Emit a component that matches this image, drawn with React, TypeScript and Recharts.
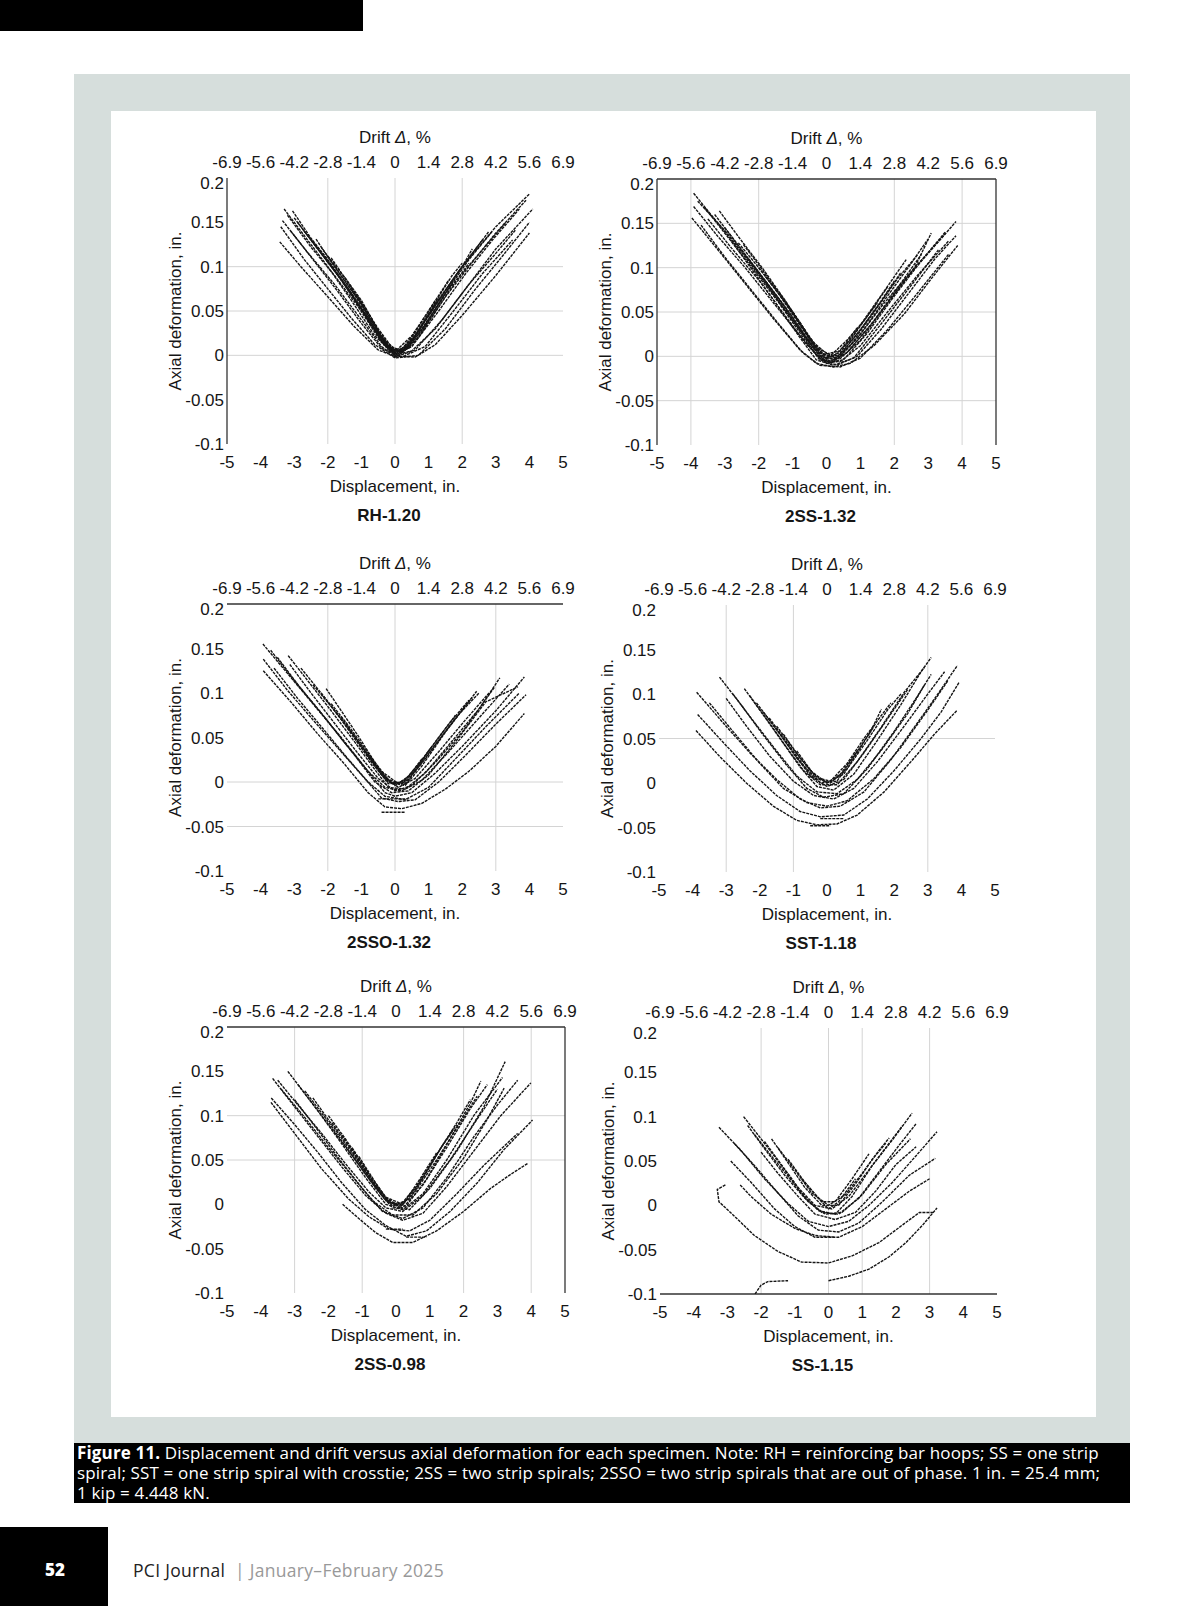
import React from "react";
import { LineChart, Line, XAxis, YAxis, ReferenceLine } from "recharts";

type Pt = [number, number];

// shared axis ticks
const dispTicks = [-5, -4, -3, -2, -1, 0, 1, 2, 3, 4, 5];
const driftLabels = ["-6.9", "-5.6", "-4.2", "-2.8", "-1.4", "0", "1.4", "2.8", "4.2", "5.6", "6.9"];
const axialTicks = [-0.1, -0.05, 0, 0.05, 0.1, 0.15, 0.2];

// loops: [displacement in., axial deformation in.]
const rh120: Pt[][] = [
  [[-3.43, 0.128], [-2.8, 0.1], [-2.0, 0.066], [-1.2, 0.032], [-0.5, 0.006], [0, -0.001], [0.6, -0.002], [1.2, 0.012], [2.0, 0.045], [3.0, 0.09], [4.0, 0.138]],
  [[-3.3, 0.165], [-2.6, 0.13], [-2.0, 0.1], [-1.3, 0.062], [-0.6, 0.022], [0, 0.0], [0.5, 0.005], [1.2, 0.03], [2.0, 0.07], [3.0, 0.12], [4.1, 0.165]],
  [[-3.05, 0.163], [-2.5, 0.132], [-2.0, 0.108], [-1.3, 0.07], [-0.6, 0.028], [0, 0.002], [0.4, 0.008], [1.0, 0.04], [2.0, 0.1], [3.0, 0.145], [4.0, 0.182]],
  [[-3.35, 0.152], [-2.6, 0.116], [-1.8, 0.08], [-1.0, 0.04], [-0.4, 0.01], [0, -0.002], [0.6, 0.006], [1.4, 0.04], [2.2, 0.08], [3.0, 0.115], [3.6, 0.142]],
  [[-2.9, 0.15], [-2.3, 0.12], [-1.6, 0.085], [-0.9, 0.045], [-0.3, 0.01], [0.2, 0.004], [0.8, 0.03], [1.6, 0.075], [2.4, 0.11], [3.3, 0.15]],
  [[-2.7, 0.14], [-2.1, 0.112], [-1.4, 0.075], [-0.7, 0.035], [-0.2, 0.006], [0.3, 0.006], [1.0, 0.045], [1.8, 0.09], [2.8, 0.14]],
  [[-2.35, 0.131], [-1.8, 0.1], [-1.2, 0.068], [-0.6, 0.03], [-0.1, 0.004], [0.4, 0.01], [1.1, 0.05], [1.9, 0.095], [2.6, 0.13]],
  [[-2.2, 0.122], [-1.6, 0.09], [-1.0, 0.058], [-0.5, 0.025], [0, 0.002], [0.5, 0.015], [1.2, 0.058], [2.0, 0.1], [2.3, 0.12]],
  [[-1.9, 0.11], [-1.4, 0.082], [-0.9, 0.052], [-0.4, 0.02], [0.1, 0.004], [0.6, 0.022], [1.2, 0.06], [1.7, 0.09], [2.0, 0.104]],
  [[-1.5, 0.088], [-1.0, 0.06], [-0.5, 0.03], [0, 0.004], [0.5, 0.022], [1.0, 0.05], [1.6, 0.085]],
  [[-1.1, 0.065], [-0.6, 0.035], [-0.2, 0.01], [0.2, 0.006], [0.7, 0.032], [1.2, 0.062]],
  [[-0.7, 0.04], [-0.3, 0.014], [0, 0.0], [0.4, 0.014], [0.8, 0.038]],
  [[-3.2, 0.158], [-2.5, 0.122], [-1.8, 0.09], [-1.1, 0.055], [-0.5, 0.02], [0, 0.0], [0.5, 0.01], [1.3, 0.05], [2.1, 0.092], [2.9, 0.13], [3.7, 0.165]],
  [[-3.0, 0.155], [-2.4, 0.125], [-1.7, 0.09], [-1.0, 0.052], [-0.4, 0.016], [0.1, 0.0], [0.7, 0.02], [1.5, 0.066], [2.3, 0.105], [3.0, 0.138], [3.9, 0.175]],
  [[-3.4, 0.145], [-2.7, 0.108], [-2.0, 0.075], [-1.3, 0.042], [-0.6, 0.012], [0, -0.003], [0.7, 0.0], [1.5, 0.03], [2.4, 0.075], [3.2, 0.112], [4.0, 0.15]],
  [[-2.5, 0.13], [-2.0, 0.106], [-1.4, 0.076], [-0.8, 0.042], [-0.3, 0.012], [0.2, 0.002], [0.8, 0.028], [1.5, 0.07], [2.2, 0.108], [2.9, 0.14]],
  [[-2.0, 0.112], [-1.5, 0.088], [-1.0, 0.062], [-0.5, 0.028], [0, 0.003], [0.5, 0.01], [1.0, 0.038], [1.6, 0.072], [2.2, 0.104]],
  [[-1.3, 0.076], [-0.9, 0.054], [-0.5, 0.028], [-0.1, 0.004], [0.3, 0.006], [0.8, 0.034], [1.3, 0.064]],
  [[-3.1, 0.14], [-2.4, 0.106], [-1.7, 0.072], [-1.0, 0.036], [-0.4, 0.008], [0.2, -0.002], [0.9, 0.01], [1.7, 0.048], [2.6, 0.092], [3.5, 0.13]],
];

const ss2_132: Pt[][] = [
  [[-3.92, 0.184], [-3.2, 0.15], [-2.4, 0.112], [-1.6, 0.072], [-0.8, 0.03], [-0.3, 0.002], [0.1, -0.008], [0.6, 0.004], [1.4, 0.04], [2.4, 0.09], [3.2, 0.125], [3.82, 0.152]],
  [[-3.92, 0.169], [-3.2, 0.135], [-2.4, 0.1], [-1.6, 0.062], [-0.8, 0.024], [-0.2, -0.002], [0.3, -0.01], [0.9, 0.0], [1.6, 0.03], [2.5, 0.075], [3.2, 0.11], [3.82, 0.136]],
  [[-3.97, 0.156], [-3.2, 0.12], [-2.4, 0.082], [-1.6, 0.044], [-0.8, 0.008], [-0.3, -0.008], [0.2, -0.012], [0.7, -0.008], [1.4, 0.012], [2.3, 0.048], [3.1, 0.088], [3.87, 0.125]],
  [[-3.6, 0.168], [-2.9, 0.134], [-2.2, 0.1], [-1.4, 0.06], [-0.7, 0.022], [-0.2, -0.004], [0.3, -0.006], [1.0, 0.018], [1.8, 0.06], [2.6, 0.1], [3.09, 0.139]],
  [[-3.16, 0.164], [-2.6, 0.135], [-1.9, 0.1], [-1.2, 0.062], [-0.6, 0.026], [-0.1, -0.004], [0.4, 0.0], [1.0, 0.025], [1.8, 0.068], [2.5, 0.105], [2.99, 0.132]],
  [[-3.0, 0.145], [-2.4, 0.115], [-1.7, 0.08], [-1.0, 0.044], [-0.4, 0.01], [0.1, -0.006], [0.6, 0.004], [1.3, 0.035], [2.0, 0.072], [2.8, 0.115]],
  [[-2.45, 0.126], [-1.9, 0.098], [-1.3, 0.066], [-0.7, 0.032], [-0.2, 0.004], [0.3, -0.002], [0.9, 0.03], [1.6, 0.068], [2.35, 0.109]],
  [[-2.3, 0.11], [-1.8, 0.085], [-1.2, 0.055], [-0.6, 0.022], [-0.1, -0.002], [0.4, 0.002], [1.0, 0.03], [1.7, 0.066], [2.2, 0.095]],
  [[-1.8, 0.09], [-1.3, 0.065], [-0.8, 0.038], [-0.3, 0.01], [0.2, 0.0], [0.7, 0.018], [1.2, 0.045], [1.8, 0.078]],
  [[-1.4, 0.072], [-0.9, 0.045], [-0.4, 0.016], [0.1, 0.0], [0.6, 0.018], [1.1, 0.04], [1.5, 0.06]],
  [[-1.0, 0.05], [-0.5, 0.022], [-0.1, 0.002], [0.4, 0.006], [0.9, 0.032]],
  [[-2.8, 0.13], [-2.2, 0.098], [-1.5, 0.06], [-0.8, 0.022], [-0.3, -0.004], [0.2, -0.01], [0.8, -0.002], [1.6, 0.036], [2.5, 0.08], [3.3, 0.12]],
  [[-3.8, 0.175], [-3.0, 0.142], [-2.2, 0.104], [-1.4, 0.064], [-0.7, 0.026], [-0.2, 0.0], [0.3, -0.004], [0.9, 0.02], [1.7, 0.06], [2.6, 0.1], [3.5, 0.138]],
  [[-3.5, 0.155], [-2.8, 0.122], [-2.0, 0.086], [-1.3, 0.05], [-0.6, 0.014], [-0.1, -0.006], [0.4, -0.006], [1.0, 0.012], [1.8, 0.05], [2.7, 0.092], [3.6, 0.13]],
  [[-2.6, 0.128], [-2.0, 0.1], [-1.4, 0.07], [-0.8, 0.036], [-0.3, 0.008], [0.2, -0.004], [0.7, 0.012], [1.4, 0.05], [2.1, 0.088], [2.7, 0.115]],
  [[-2.0, 0.1], [-1.5, 0.076], [-1.0, 0.05], [-0.5, 0.02], [0, -0.002], [0.5, 0.006], [1.0, 0.03], [1.6, 0.062], [2.0, 0.085]],
  [[-3.3, 0.16], [-2.7, 0.13], [-2.0, 0.094], [-1.3, 0.056], [-0.6, 0.02], [0, -0.008], [0.5, -0.004], [1.2, 0.026], [2.0, 0.068], [2.8, 0.108], [3.5, 0.14]],
  [[-3.7, 0.148], [-3.0, 0.112], [-2.2, 0.074], [-1.4, 0.036], [-0.7, 0.004], [-0.2, -0.01], [0.4, -0.012], [1.0, -0.002], [1.8, 0.03], [2.7, 0.072], [3.6, 0.115]],
];

const sso2_132: Pt[][] = [
  [[-3.93, 0.155], [-3.2, 0.122], [-2.4, 0.086], [-1.6, 0.05], [-0.8, 0.012], [-0.3, -0.012], [0, -0.016], [0.5, -0.012], [1.2, 0.01], [2.0, 0.04], [3.0, 0.08], [3.85, 0.118]],
  [[-3.92, 0.138], [-3.2, 0.103], [-2.4, 0.068], [-1.6, 0.034], [-0.9, 0.004], [-0.4, -0.018], [0.1, -0.022], [0.6, -0.02], [1.3, 0.0], [2.1, 0.03], [3.0, 0.065], [3.9, 0.098]],
  [[-3.92, 0.125], [-3.1, 0.09], [-2.3, 0.054], [-1.5, 0.02], [-0.8, -0.012], [-0.3, -0.028], [0.2, -0.03], [0.8, -0.024], [1.5, -0.008], [2.2, 0.012], [3.0, 0.04], [3.85, 0.077]],
  [[-3.18, 0.142], [-2.6, 0.114], [-1.9, 0.08], [-1.2, 0.045], [-0.6, 0.014], [-0.2, -0.006], [0.3, -0.008], [0.9, 0.01], [1.7, 0.046], [2.5, 0.082], [3.12, 0.117]],
  [[-3.13, 0.132], [-2.5, 0.1], [-1.8, 0.066], [-1.1, 0.032], [-0.5, 0.004], [0, -0.01], [0.5, -0.004], [1.2, 0.022], [2.0, 0.056], [2.97, 0.107]],
  [[-2.44, 0.109], [-1.9, 0.085], [-1.3, 0.056], [-0.7, 0.026], [-0.2, 0.0], [0.3, -0.004], [0.8, 0.018], [1.5, 0.056], [2.43, 0.102]],
  [[-2.05, 0.105], [-1.6, 0.08], [-1.1, 0.052], [-0.6, 0.022], [-0.1, -0.002], [0.4, 0.002], [1.0, 0.035], [1.6, 0.065], [2.2, 0.092]],
  [[-1.6, 0.073], [-1.1, 0.046], [-0.6, 0.018], [-0.2, -0.002], [0.3, 0.0], [0.8, 0.024], [1.3, 0.05], [1.8, 0.075]],
  [[-3.5, 0.14], [-2.8, 0.105], [-2.0, 0.068], [-1.2, 0.03], [-0.6, 0.0], [-0.1, -0.012], [0.4, -0.01], [1.0, 0.008], [1.8, 0.045], [2.7, 0.09], [3.66, 0.107]],
  [[-1.2, 0.05], [-0.7, 0.025], [-0.3, 0.004], [0.2, -0.002], [0.7, 0.02], [1.1, 0.04]],
  [[-0.8, 0.03], [-0.4, 0.01], [0, -0.004], [0.4, 0.006], [0.8, 0.026]],
  [[-0.5, -0.019], [0.4, -0.019]],
  [[-0.4, -0.034], [0.3, -0.034]],
  [[-3.7, 0.148], [-3.0, 0.114], [-2.2, 0.078], [-1.5, 0.044], [-0.8, 0.012], [-0.3, -0.006], [0.2, -0.01], [0.8, 0.002], [1.6, 0.034], [2.5, 0.072], [3.4, 0.11]],
  [[-2.8, 0.128], [-2.2, 0.1], [-1.6, 0.07], [-1.0, 0.038], [-0.4, 0.008], [0.1, -0.006], [0.6, 0.004], [1.3, 0.034], [2.1, 0.07], [2.8, 0.1]],
  [[-2.2, 0.1], [-1.7, 0.076], [-1.2, 0.05], [-0.7, 0.022], [-0.2, 0.0], [0.3, -0.002], [0.9, 0.026], [1.6, 0.062], [2.3, 0.095]],
  [[-3.6, 0.128], [-2.9, 0.094], [-2.1, 0.058], [-1.4, 0.026], [-0.8, 0.0], [-0.3, -0.016], [0.3, -0.02], [1.0, -0.006], [1.8, 0.026], [2.7, 0.062], [3.7, 0.1]],
  [[-1.9, 0.088], [-1.4, 0.064], [-0.9, 0.038], [-0.4, 0.012], [0.1, -0.002], [0.6, 0.012], [1.2, 0.042], [1.9, 0.076], [2.5, 0.1]],
];

const sst118: Pt[][] = [
  [[-3.9, 0.059], [-3.2, 0.03], [-2.4, 0.0], [-1.6, -0.026], [-0.9, -0.042], [-0.3, -0.047], [0.3, -0.046], [0.9, -0.036], [1.7, -0.01], [2.5, 0.024], [3.2, 0.055], [3.88, 0.082]],
  [[-3.85, 0.077], [-3.1, 0.046], [-2.3, 0.014], [-1.5, -0.014], [-0.8, -0.032], [-0.2, -0.038], [0.5, -0.036], [1.2, -0.018], [2.0, 0.014], [2.8, 0.05], [3.4, 0.08], [3.93, 0.113]],
  [[-3.88, 0.102], [-3.1, 0.068], [-2.3, 0.034], [-1.5, 0.004], [-0.8, -0.018], [-0.2, -0.028], [0.4, -0.026], [1.1, -0.01], [1.9, 0.026], [2.7, 0.068], [3.3, 0.1], [3.88, 0.132]],
  [[-3.2, 0.119], [-2.6, 0.09], [-1.9, 0.054], [-1.2, 0.02], [-0.6, -0.006], [-0.1, -0.016], [0.5, -0.012], [1.2, 0.016], [2.0, 0.058], [2.7, 0.098], [3.1, 0.122]],
  [[-2.46, 0.106], [-2.0, 0.082], [-1.4, 0.05], [-0.8, 0.018], [-0.3, -0.004], [0.2, -0.008], [0.8, 0.01], [1.5, 0.048], [2.2, 0.088], [2.8, 0.125], [3.1, 0.141]],
  [[-2.1, 0.09], [-1.6, 0.065], [-1.0, 0.034], [-0.5, 0.008], [0, -0.004], [0.5, 0.004], [1.1, 0.034], [1.8, 0.072], [2.4, 0.105]],
  [[-1.72, 0.073], [-1.2, 0.046], [-0.7, 0.02], [-0.2, 0.0], [0.3, 0.002], [0.8, 0.03], [1.3, 0.058], [1.62, 0.083]],
  [[-1.3, 0.055], [-0.8, 0.028], [-0.3, 0.006], [0.1, 0.002], [0.6, 0.022], [1.1, 0.05], [1.4, 0.065]],
  [[-3.5, 0.09], [-2.8, 0.058], [-2.0, 0.022], [-1.3, -0.006], [-0.6, -0.022], [0, -0.026], [0.6, -0.02], [1.4, 0.005], [2.2, 0.04], [3.0, 0.082], [3.6, 0.115]],
  [[-0.9, 0.036], [-0.4, 0.01], [0, 0.0], [0.4, 0.01], [0.9, 0.036]],
  [[-2.8, 0.1], [-2.2, 0.07], [-1.5, 0.036], [-0.9, 0.008], [-0.3, -0.01], [0.3, -0.012], [0.9, 0.004], [1.6, 0.036], [2.4, 0.078], [2.9, 0.11]],
  [[-0.5, -0.048], [0.1, -0.048]],
  [[-0.2, -0.04], [0.5, -0.04]],
  [[-2.3, 0.098], [-1.8, 0.072], [-1.2, 0.04], [-0.7, 0.014], [-0.2, -0.002], [0.3, -0.002], [0.9, 0.024], [1.6, 0.062], [2.3, 0.102], [2.9, 0.13]],
  [[-1.9, 0.08], [-1.4, 0.055], [-0.9, 0.028], [-0.4, 0.006], [0.1, 0.0], [0.6, 0.016], [1.2, 0.048], [1.8, 0.082], [2.2, 0.1]],
  [[-3.0, 0.095], [-2.4, 0.064], [-1.7, 0.03], [-1.0, 0.002], [-0.4, -0.014], [0.2, -0.018], [0.8, -0.006], [1.5, 0.024], [2.3, 0.064], [3.0, 0.1], [3.5, 0.125]],
  [[-1.5, 0.064], [-1.0, 0.038], [-0.5, 0.014], [0, 0.0], [0.5, 0.01], [1.0, 0.04], [1.5, 0.07], [1.9, 0.09]],
];

const ss2_098: Pt[][] = [
  [[-1.58, 0.0], [-1.1, -0.016], [-0.6, -0.032], [-0.1, -0.043], [0.5, -0.043], [1.2, -0.03], [2.0, -0.008], [2.8, 0.018], [3.4, 0.034], [3.89, 0.046]],
  [[-3.69, 0.12], [-3.0, 0.09], [-2.3, 0.058], [-1.6, 0.024], [-0.9, -0.006], [-0.3, -0.024], [0.3, -0.036], [0.9, -0.03], [1.6, -0.008], [2.4, 0.024], [3.2, 0.062], [4.04, 0.095]],
  [[-3.65, 0.142], [-3.0, 0.11], [-2.3, 0.076], [-1.6, 0.042], [-0.9, 0.01], [-0.3, -0.01], [0.2, -0.018], [0.8, -0.01], [1.5, 0.02], [2.3, 0.06], [3.1, 0.1], [3.99, 0.137]],
  [[-3.2, 0.15], [-2.6, 0.12], [-1.9, 0.085], [-1.2, 0.05], [-0.6, 0.018], [-0.1, -0.004], [0.4, -0.006], [1.0, 0.018], [1.8, 0.06], [2.6, 0.11], [3.23, 0.161]],
  [[-3.4, 0.13], [-2.7, 0.098], [-2.0, 0.064], [-1.3, 0.032], [-0.7, 0.004], [-0.1, -0.012], [0.5, -0.012], [1.2, 0.012], [2.0, 0.052], [2.7, 0.096], [3.2, 0.131]],
  [[-2.46, 0.12], [-1.9, 0.09], [-1.3, 0.058], [-0.7, 0.026], [-0.2, 0.002], [0.3, -0.002], [0.9, 0.028], [1.6, 0.074], [2.2, 0.114], [2.51, 0.139]],
  [[-2.9, 0.135], [-2.3, 0.105], [-1.6, 0.068], [-0.9, 0.03], [-0.3, 0.0], [0.2, -0.006], [0.8, 0.012], [1.5, 0.05], [2.3, 0.1], [3.15, 0.143]],
  [[-2.0, 0.1], [-1.5, 0.074], [-0.9, 0.04], [-0.4, 0.01], [0.1, -0.002], [0.6, 0.02], [1.2, 0.056], [1.8, 0.092], [2.2, 0.118]],
  [[-1.6, 0.078], [-1.1, 0.05], [-0.6, 0.02], [-0.1, -0.002], [0.4, 0.006], [0.9, 0.036], [1.4, 0.068], [1.8, 0.09]],
  [[-1.1, 0.054], [-0.6, 0.024], [-0.2, 0.002], [0.2, 0.0], [0.7, 0.028], [1.2, 0.058]],
  [[-3.7, 0.115], [-3.0, 0.08], [-2.2, 0.04], [-1.4, 0.006], [-0.8, -0.014], [-0.2, -0.028], [0.4, -0.03], [1.0, -0.018], [1.8, 0.012], [2.6, 0.044], [3.6, 0.08]],
  [[0.3, -0.037], [0.9, -0.037]],
  [[-0.3, -0.028], [0.2, -0.028]],
  [[-3.5, 0.14], [-2.9, 0.112], [-2.2, 0.08], [-1.5, 0.046], [-0.8, 0.014], [-0.3, -0.004], [0.2, -0.008], [0.8, 0.01], [1.6, 0.05], [2.4, 0.096], [3.0, 0.13]],
  [[-2.7, 0.128], [-2.1, 0.098], [-1.5, 0.066], [-0.9, 0.034], [-0.3, 0.004], [0.2, -0.004], [0.8, 0.022], [1.5, 0.064], [2.2, 0.108], [2.7, 0.135]],
  [[-1.9, 0.092], [-1.4, 0.066], [-0.9, 0.036], [-0.4, 0.01], [0.1, -0.004], [0.6, 0.016], [1.2, 0.05], [1.8, 0.086], [2.4, 0.122]],
  [[-3.0, 0.118], [-2.4, 0.088], [-1.7, 0.052], [-1.0, 0.018], [-0.4, -0.008], [0.2, -0.016], [0.8, -0.004], [1.5, 0.03], [2.3, 0.076], [3.0, 0.112], [3.6, 0.14]],
  [[-1.3, 0.064], [-0.8, 0.034], [-0.3, 0.008], [0.2, 0.0], [0.7, 0.024], [1.3, 0.062], [1.7, 0.084]],
];

const ss115: Pt[][] = [
  [[-3.25, 0.088], [-2.6, 0.062], [-1.9, 0.03], [-1.2, 0.002], [-0.6, -0.018], [0, -0.024], [0.6, -0.018], [1.2, 0.0], [1.9, 0.026], [2.6, 0.056], [3.22, 0.083]],
  [[-2.52, 0.1], [-2.0, 0.075], [-1.4, 0.045], [-0.8, 0.014], [-0.3, -0.006], [0.2, -0.01], [0.7, 0.01], [1.3, 0.045], [1.9, 0.074], [2.48, 0.104]],
  [[-1.69, 0.075], [-1.2, 0.048], [-0.7, 0.02], [-0.2, 0.0], [0.3, 0.0], [0.8, 0.024], [1.3, 0.052], [1.7, 0.07]],
  [[-2.2, 0.08], [-1.7, 0.056], [-1.1, 0.028], [-0.6, 0.004], [-0.1, -0.01], [0.4, -0.008], [1.0, 0.012], [1.7, 0.046], [2.43, 0.075]],
  [[-2.8, 0.07], [-2.2, 0.045], [-1.5, 0.014], [-0.9, -0.012], [-0.3, -0.028], [0.3, -0.03], [0.9, -0.02], [1.6, 0.004], [2.4, 0.034], [3.17, 0.053]],
  [[-2.9, 0.05], [-2.3, 0.026], [-1.6, -0.004], [-1.0, -0.024], [-0.4, -0.036], [0.3, -0.036], [1.0, -0.024], [1.7, -0.004], [2.4, 0.016], [3.0, 0.03]],
  [[-3.06, 0.023], [-3.3, 0.018], [-3.25, 0.004], [-2.8, -0.012], [-2.2, -0.034], [-1.5, -0.052], [-0.8, -0.064], [0, -0.065], [0.7, -0.057], [1.5, -0.042], [2.2, -0.022], [2.7, -0.008], [3.1, -0.008]],
  [[0, -0.085], [0.6, -0.08], [1.2, -0.072], [1.8, -0.058], [2.3, -0.042], [2.8, -0.022], [3.22, -0.003]],
  [[-2.18, -0.1], [-2.0, -0.09], [-1.8, -0.086], [-1.2, -0.085]],
  [[-1.2, 0.052], [-0.7, 0.026], [-0.2, 0.004], [0.2, 0.004], [0.7, 0.03], [1.2, 0.058]],
  [[-2.62, 0.023], [-2.3, 0.01], [-1.7, -0.01], [-1.0, -0.026], [-0.4, -0.034], [0.2, -0.036]],
  [[-0.8, 0.03], [-0.3, 0.008], [0, -0.004], [0.3, 0.004], [0.8, 0.03]],
  [[-1.9, 0.072], [-1.4, 0.046], [-0.9, 0.02], [-0.4, 0.0], [0.1, -0.004], [0.6, 0.01], [1.2, 0.04], [1.8, 0.07], [2.2, 0.09]],
  [[-1.5, 0.065], [-1.0, 0.04], [-0.5, 0.014], [0, 0.0], [0.5, 0.012], [1.0, 0.036], [1.5, 0.062], [1.8, 0.076]],
  [[-2.4, 0.09], [-1.9, 0.064], [-1.3, 0.034], [-0.7, 0.008], [-0.2, -0.008], [0.3, -0.01], [0.9, 0.008], [1.5, 0.038], [2.1, 0.068], [2.6, 0.092]],
  [[-2.0, 0.06], [-1.5, 0.036], [-0.9, 0.01], [-0.4, -0.01], [0.2, -0.016], [0.8, -0.008], [1.4, 0.016], [2.0, 0.046], [2.6, 0.066]],
];

const INK = "#151515";
const GRID = "#d4d4d4";
const ML = 80;
const MT = 60;
const MB = 60;
const MR = 12;

type Frame = { left?: boolean; top?: boolean; right?: boolean; bottom?: boolean };

interface PanelSpec {
  left: number;
  top: number;
  w: number;
  h: number;
  title: string;
  loops: Pt[][];
  gridX: number[];
  gridY: number[];
  frame: Frame;
}

const panels: PanelSpec[] = [
  { left: 227, top: 178, w: 336, h: 266, title: "RH-1.20", loops: rh120, gridX: [-2, 0, 2], gridY: [0, 0.05, 0.1], frame: { left: true } },
  { left: 657, top: 179, w: 339, h: 266, title: "2SS-1.32", loops: ss2_132, gridX: [-4, -2, 2, 4], gridY: [-0.05, 0, 0.05, 0.1, 0.15], frame: { left: true, top: true, right: true } },
  { left: 227, top: 604, w: 336, h: 267, title: "2SSO-1.32", loops: sso2_132, gridX: [-2, 0, 3], gridY: [-0.05, 0], frame: { top: true } },
  { left: 659, top: 605, w: 336, h: 267, title: "SST-1.18", loops: sst118, gridX: [-3, -1, 3], gridY: [0.05], frame: {} },
  { left: 227, top: 1027, w: 338, h: 266, title: "2SS-0.98", loops: ss2_098, gridX: [-3, -1, 2, 4], gridY: [0.05, 0.1], frame: { top: true, right: true } },
  { left: 660, top: 1028, w: 337, h: 266, title: "SS-1.15", loops: ss115, gridX: [-2, 0, 1, 3], gridY: [], frame: { bottom: true } },
];

const tickStyle = { fontSize: 17, fill: INK };

// y tick: the top label sits a little below its line in the scan
const YTick = (props: any) => {
  const { x, y, payload } = props;
  const shift = payload.value === 0.2 ? 5 : 0;
  return (
    <text x={x} y={y + shift} dy="0.355em" textAnchor="end" fontSize={17} fill={INK}>
      {payload.value}
    </text>
  );
};

function Panel({ spec }: { spec: PanelSpec }) {
  const { left, top, w, h, title, loops, gridX, gridY, frame } = spec;
  const series = loops.map((l) => l.map(([x, y]) => ({ x, y })));
  const cx = left + w / 2;
  return (
    <>
      <div style={{ position: "absolute", left: left - ML, top: top - MT }}>
        <LineChart width={ML + w + MR} height={MT + h + MB} margin={{ top: 0, right: MR, bottom: 0, left: 0 }}>
          <XAxis
            xAxisId="top"
            orientation="top"
            type="number"
            dataKey="x"
            domain={[-5, 5]}
            ticks={dispTicks}
            interval={0}
            allowDataOverflow
            tickFormatter={(v: number) => driftLabels[Math.round(v) + 5]}
            height={MT}
            axisLine={false}
            tickLine={false}
            tickSize={0}
            tickMargin={10}
            tick={tickStyle}
          />
          <XAxis
            xAxisId="bottom"
            orientation="bottom"
            type="number"
            dataKey="x"
            domain={[-5, 5]}
            ticks={dispTicks}
            interval={0}
            allowDataOverflow
            height={MB}
            axisLine={false}
            tickLine={false}
            tickSize={0}
            tickMargin={12}
            tick={tickStyle}
            label={{ value: "Displacement, in.", position: "insideTop", offset: 36, style: { fontSize: 17, fill: INK } }}
          />
          <YAxis
            yAxisId="left"
            type="number"
            domain={[-0.1, 0.2]}
            ticks={axialTicks}
            interval={0}
            allowDataOverflow
            width={ML}
            axisLine={false}
            tickLine={false}
            tickSize={0}
            tickMargin={3}
            tick={<YTick />}
            label={{
              value: "Axial deformation, in.",
              angle: -90,
              position: "insideLeft",
              offset: ML - 52,
              style: { fontSize: 17, fill: INK, textAnchor: "middle" },
            }}
          />
          {gridX.map((v) => (
            <ReferenceLine key={"gx" + v} xAxisId="bottom" yAxisId="left" x={v} stroke={GRID} strokeWidth={1} />
          ))}
          {gridY.map((v) => (
            <ReferenceLine key={"gy" + v} xAxisId="bottom" yAxisId="left" y={v} stroke={GRID} strokeWidth={1} />
          ))}
          {frame.left && <ReferenceLine xAxisId="bottom" yAxisId="left" x={-5} stroke="#333" strokeWidth={1.3} />}
          {frame.right && <ReferenceLine xAxisId="bottom" yAxisId="left" x={5} stroke="#333" strokeWidth={1.3} />}
          {frame.top && <ReferenceLine xAxisId="bottom" yAxisId="left" y={0.2} stroke="#333" strokeWidth={1.3} />}
          {frame.bottom && <ReferenceLine xAxisId="bottom" yAxisId="left" y={-0.1} stroke="#333" strokeWidth={1.3} />}
          {/* invisible copy so the drift axis on top gets a series */}
          <Line
            xAxisId="top"
            yAxisId="left"
            data={series[0]}
            dataKey="y"
            stroke="none"
            dot={false}
            activeDot={false}
            legendType="none"
            isAnimationActive={false}
          />
          {series.map((d, i) => (
            <Line
              key={i}
              xAxisId="bottom"
              yAxisId="left"
              data={d}
              dataKey="y"
              type="linear"
              dot={false}
              activeDot={false}
              stroke={INK}
              strokeWidth={1.4}
              strokeDasharray="3 1"
              isAnimationActive={false}
            />
          ))}
        </LineChart>
      </div>
      <div
        style={{
          position: "absolute",
          left: cx - 100,
          width: 200,
          top: top - 40 - 10,
          lineHeight: "20px",
          fontSize: 17,
          textAlign: "center",
          color: INK,
        }}
      >
        Drift <span style={{ fontStyle: "italic" }}>Δ</span>, %
      </div>
      <div
        style={{
          position: "absolute",
          left: cx - 106,
          width: 200,
          top: top + h + 72 - 10,
          lineHeight: "20px",
          fontSize: 17,
          fontWeight: "bold",
          textAlign: "center",
          color: INK,
        }}
      >
        {title}
      </div>
    </>
  );
}

const captionLines = [
  "Displacement and drift versus axial deformation for each specimen. Note: RH = reinforcing bar hoops; SS = one strip",
  "spiral; SST = one strip spiral with crosstie; 2SS = two strip spirals; 2SSO = two strip spirals that are out of phase. 1 in. = 25.4 mm;",
  "1 kip = 4.448 kN.",
];

export default function App() {
  return (
    <div
      style={{
        position: "absolute",
        left: 0,
        top: 0,
        width: 1200,
        height: 1606,
        background: "#fff",
        overflow: "hidden",
        fontFamily: "'Liberation Sans', Arial, sans-serif",
      }}
    >
      <div style={{ position: "absolute", left: 0, top: 0, width: 363, height: 31, background: "#000" }} />
      <div style={{ position: "absolute", left: 74, top: 74, width: 1056, height: 1370, background: "#d6dedc" }} />
      <div style={{ position: "absolute", left: 111, top: 111, width: 985, height: 1306, background: "#fff" }} />
      {panels.map((p) => (
        <Panel key={p.title} spec={p} />
      ))}
      <div
        style={{
          position: "absolute",
          left: 74,
          top: 1443,
          width: 1056,
          height: 60,
          background: "#000",
          color: "#fff",
          fontFamily: "'Open Sans', sans-serif",
          fontSize: 17,
          letterSpacing: 0.15,
          lineHeight: "20px",
          paddingLeft: 3,
          boxSizing: "border-box",
          whiteSpace: "nowrap",
        }}
      >
        <div>
          <b>Figure 11.</b> {captionLines[0]}
        </div>
        <div>{captionLines[1]}</div>
        <div>{captionLines[2]}</div>
      </div>
      <div
        style={{
          position: "absolute",
          left: 0,
          top: 1527,
          width: 108,
          height: 79,
          background: "#000",
          color: "#fff",
          fontFamily: "'Open Sans', sans-serif",
          fontWeight: 800,
          fontSize: 17,
        }}
      >
        <div style={{ position: "absolute", left: 0, width: 110, top: 32, textAlign: "center", lineHeight: "22px" }}>52</div>
      </div>
      <div
        style={{
          position: "absolute",
          left: 133,
          top: 1559,
          lineHeight: "22px",
          fontFamily: "'Open Sans', sans-serif",
          fontSize: 17.5,
          letterSpacing: 0.3,
          whiteSpace: "nowrap",
          color: "#222",
        }}
      >
        PCI Journal <span style={{ color: "#999" }}>&nbsp;| January–February 2025</span>
      </div>
    </div>
  );
}
